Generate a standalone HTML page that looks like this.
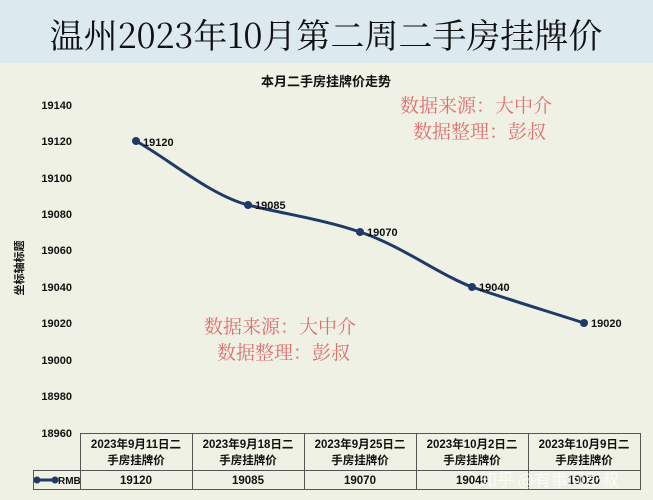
<!DOCTYPE html>
<html><head><meta charset="utf-8"><style>
body{margin:0;width:653px;height:500px;overflow:hidden;background:#eef1e4;font-family:"Liberation Sans","Noto Sans CJK SC",sans-serif;}
</style></head><body>
<svg width="653" height="500" xmlns="http://www.w3.org/2000/svg" style="position:absolute;left:0;top:0">
<rect x="0" y="0" width="653" height="63" fill="#dce9ef"/>
<rect x="0" y="63" width="653" height="437" fill="#eef1e3"/>
<text x="326" y="48" text-anchor="middle" font-family="'Noto Serif CJK SC',serif" font-size="34" fill="#111">温州2023年10月第二周二手房挂牌价</text>
<text x="326" y="86" text-anchor="middle" font-family="'Noto Sans CJK SC',sans-serif" font-size="13" font-weight="bold" fill="#111">本月二手房挂牌价走势</text>
<g font-family="'Liberation Sans',sans-serif" font-size="11" font-weight="bold" fill="#111" text-anchor="end">
<text x="72" y="109">19140</text><text x="72" y="145">19120</text><text x="72" y="182">19100</text>
<text x="72" y="218">19080</text><text x="72" y="254">19060</text><text x="72" y="291">19040</text>
<text x="72" y="327">19020</text><text x="72" y="364">19000</text><text x="72" y="400">18980</text>
<text x="72" y="437">18960</text></g>
<text transform="translate(23,268) rotate(-90)" text-anchor="middle" font-family="'Noto Sans CJK SC',sans-serif" font-size="11" font-weight="bold" fill="#111">坐标轴标题</text>
<path d="M136,141 C170,160 210,195 248,205 C290,215 325,220 360,232 C400,245 440,275 472,287 C510,300 550,312 584,323" fill="none" stroke="#1f3a68" stroke-width="3"/>
<g fill="#1f3a68"><circle cx="136" cy="141" r="4"/><circle cx="248" cy="205" r="4"/><circle cx="360" cy="232" r="4"/><circle cx="472" cy="287" r="4"/><circle cx="584" cy="323" r="4"/></g>
<g font-family="'Liberation Sans',sans-serif" font-size="11" font-weight="bold" fill="#111">
<text x="143" y="146">19120</text><text x="255" y="209">19085</text><text x="367" y="236">19070</text><text x="479" y="291">19040</text><text x="591" y="327">19020</text></g>
<g font-family="'Noto Serif CJK SC',serif" font-size="19" fill="#e07070">
<text x="400" y="112">数据来源：大中介</text><text x="413" y="138">数据整理：彭叔</text>
<text x="204" y="333">数据来源：大中介</text><text x="217" y="359">数据整理：彭叔</text></g>
<g stroke="#555" stroke-width="1" fill="none">
<rect x="80.5" y="433.5" width="560" height="56"/>
<line x1="33" y1="470.5" x2="80" y2="470.5"/><line x1="33" y1="489.5" x2="80" y2="489.5"/><line x1="33.5" y1="470" x2="33.5" y2="490"/>
<line x1="80" y1="470.5" x2="641" y2="470.5"/>
<line x1="192.5" y1="433" x2="192.5" y2="490"/><line x1="304.5" y1="433" x2="304.5" y2="490"/><line x1="416.5" y1="433" x2="416.5" y2="490"/><line x1="528.5" y1="433" x2="528.5" y2="490"/></g>
<line x1="36" y1="480" x2="56" y2="480" stroke="#1f3a68" stroke-width="3"/>
<circle cx="37" cy="480" r="3.5" fill="#1f3a68"/><circle cx="55" cy="480" r="3.5" fill="#1f3a68"/>
<text x="58" y="484" font-family="'Liberation Sans',sans-serif" font-size="10" font-weight="bold" fill="#111">RMB</text>
<g font-family="'Liberation Sans','Noto Sans CJK SC',sans-serif" font-size="11.5" font-weight="bold" fill="#111" text-anchor="middle">
<text x="136" y="448">2023年9月11日二</text><text x="136" y="464">手房挂牌价</text>
<text x="248" y="448">2023年9月18日二</text><text x="248" y="464">手房挂牌价</text>
<text x="360" y="448">2023年9月25日二</text><text x="360" y="464">手房挂牌价</text>
<text x="472" y="448">2023年10月2日二</text><text x="472" y="464">手房挂牌价</text>
<text x="584" y="448">2023年10月9日二</text><text x="584" y="464">手房挂牌价</text>
<text x="136" y="484">19120</text><text x="248" y="484">19085</text><text x="360" y="484">19070</text><text x="472" y="484">19040</text><text x="584" y="484">19020</text></g>
<text x="480" y="486" font-family="'Noto Sans CJK SC',sans-serif" font-size="17" fill="#fff" fill-opacity="0.75">知乎 @有事问彭叔</text>
</svg>
</body></html>
